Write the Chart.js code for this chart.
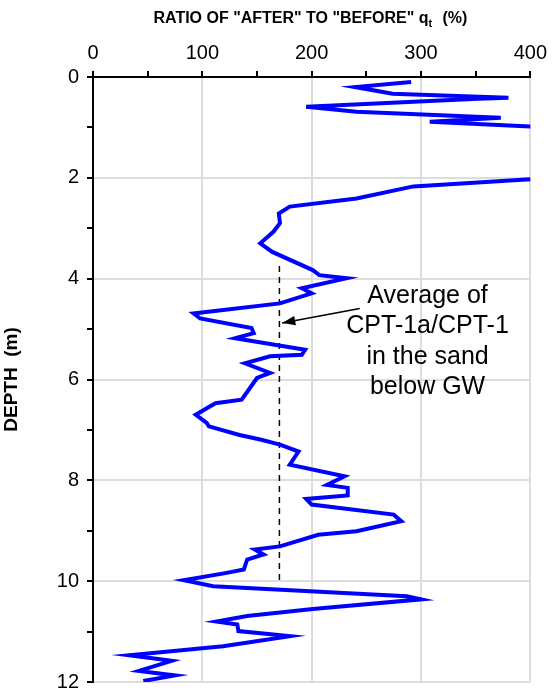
<!DOCTYPE html>
<html>
<head>
<meta charset="utf-8">
<script src="https://cdn.jsdelivr.net/npm/chart.js@4"></script>
<style>
  html, body { margin: 0; padding: 0; background: #fff; }
  #wrap { width: 553px; height: 693px; }
</style>
</head>
<body>
<div id="wrap"><canvas id="depthChart"></canvas></div>
<script>
// ratio (%) and depth (m)
const ratio = [291, 240, 274, 380, 352, 195, 241, 373, 308, 400, 460, 460, 400, 293, 241, 180, 170, 171, 165, 153, 164, 201, 207, 232, 191, 200, 171, 92, 98, 145, 147, 130, 194, 191, 162, 139, 162, 150, 136, 112, 94, 104, 106, 134, 153, 171, 188, 180, 230, 214, 233, 233, 195, 200, 275, 282, 241, 206, 171, 148, 156, 141, 138, 121, 83, 110, 287, 300, 201, 141, 113, 132, 133, 180, 119, 33, 72, 42, 75, 46];
const depth = [0.10, 0.20, 0.33, 0.41, 0.43, 0.59, 0.69, 0.81, 0.89, 0.98, 1.00, 2.01, 2.03, 2.17, 2.41, 2.57, 2.71, 2.90, 3.07, 3.30, 3.47, 3.83, 3.93, 3.99, 4.19, 4.29, 4.49, 4.69, 4.79, 4.98, 5.08, 5.18, 5.41, 5.51, 5.54, 5.68, 5.87, 5.97, 6.40, 6.47, 6.70, 6.86, 6.93, 7.10, 7.19, 7.29, 7.43, 7.69, 7.92, 8.09, 8.15, 8.30, 8.37, 8.48, 8.68, 8.81, 9.01, 9.08, 9.31, 9.37, 9.47, 9.57, 9.77, 9.84, 9.98, 10.10, 10.30, 10.36, 10.55, 10.69, 10.80, 10.86, 10.99, 11.09, 11.29, 11.47, 11.58, 11.78, 11.87, 11.98];
const avgRatio = 170.5;
const avgDepth = [3.75, 10.0];
const noteLines = ['Average of', 'CPT-1a/CPT-1', 'in the sand', 'below GW'];

const points = ratio.map((r, i) => ({ x: r, y: depth[i] }));
const avgPoints = avgDepth.map(d => ({ x: avgRatio, y: d }));
const FONT = '"Liberation Sans", Arial, sans-serif';

const notePlugin = {
  id: 'note',
  afterDraw(chart) {
    const { ctx, scales: { x, y } } = chart;
    ctx.save();
    ctx.fillStyle = '#000';
    ctx.font = '25px ' + FONT;
    ctx.textAlign = 'center';
    ctx.textBaseline = 'middle';
    noteLines.forEach((t, i) => ctx.fillText(t, x.getPixelForValue(306), y.getPixelForValue(4.35 + i * 0.6)));
    // arrow
    const x1 = x.getPixelForValue(244), y1 = y.getPixelForValue(4.59);
    const x2 = x.getPixelForValue(173), y2 = y.getPixelForValue(4.88);
    ctx.strokeStyle = '#000';
    ctx.lineWidth = 1.5;
    ctx.beginPath(); ctx.moveTo(x1, y1); ctx.lineTo(x2, y2); ctx.stroke();
    const a = Math.atan2(y2 - y1, x2 - x1);
    ctx.beginPath();
    ctx.moveTo(x2, y2);
    ctx.lineTo(x2 - 14 * Math.cos(a - 0.35), y2 - 14 * Math.sin(a - 0.35));
    ctx.lineTo(x2 - 14 * Math.cos(a + 0.35), y2 - 14 * Math.sin(a + 0.35));
    ctx.closePath(); ctx.fill();
    // top title with subscript
    ctx.font = 'bold 16px ' + FONT;
    ctx.textAlign = 'left';
    const main = 'RATIO OF "AFTER" TO "BEFORE" q';
    const w = ctx.measureText(main).width;
    const sx = 312 - (w + 42) / 2;
    ctx.fillText(main, sx, 19);
    ctx.font = 'bold 11px ' + FONT;
    ctx.fillText('t', sx + w, 24);
    ctx.font = 'bold 16px ' + FONT;
    ctx.fillText('  (%)', sx + w + 5, 19);
    ctx.restore();
  }
};

new Chart(document.getElementById('depthChart'), {
  type: 'scatter',
  data: {
    datasets: [
      { data: points, showLine: true, borderColor: '#0000ff', borderWidth: 4, pointRadius: 0, tension: 0 },
      { data: avgPoints, showLine: true, borderColor: '#000', borderWidth: 1.5, borderDash: [6, 5], pointRadius: 0 }
    ]
  },
  options: {
    responsive: true,
    maintainAspectRatio: false,
    animation: false,
    layout: { padding: { top: 0, right: 22, bottom: 11, left: 0 } },
    plugins: { legend: { display: false }, tooltip: { enabled: false } },
    scales: {
      x: {
        position: 'top', min: 0, max: 400,
        afterFit: s => { s.height = 77; },
        ticks: { stepSize: 50, color: '#000', font: { size: 20, family: FONT }, padding: 6,
                 callback: v => (v % 100 === 0 ? v : '') },
        grid: { color: c => (c.tick && c.tick.value % 100 === 0 ? '#dddddd' : 'transparent'),
                lineWidth: 2, tickColor: '#000', tickLength: 6 },
        border: { color: '#000', width: 2 }
      },
      y: {
        reverse: true, min: 0, max: 12,
        afterFit: s => { s.width = 93; s.paddingBottom = 0; },
        ticks: { stepSize: 1, color: '#000', font: { size: 20, family: FONT }, padding: 8,
                 callback: v => (v % 2 === 0 ? v : '') },
        grid: { color: c => (c.tick && c.tick.value % 2 === 0 ? '#dddddd' : 'transparent'),
                lineWidth: 2, tickColor: '#000', tickLength: 6 },
        border: { color: '#000', width: 2 },
        title: { display: true, text: 'DEPTH  (m)', color: '#000', padding: { top: 0, bottom: 12 },
                 font: { size: 19, weight: 'bold', family: FONT } }
      }
    }
  },
  plugins: [notePlugin]
});
</script>
</body>
</html>
